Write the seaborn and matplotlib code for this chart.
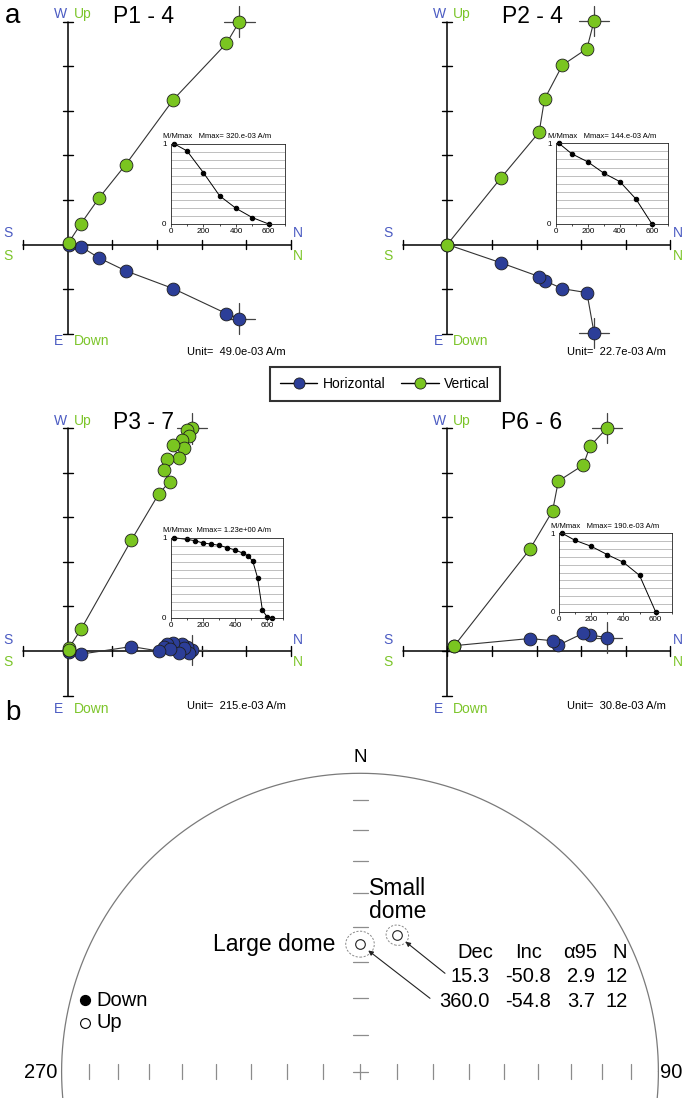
import numpy as np
import pandas as pd
import seaborn as sns
import matplotlib.pyplot as plt
from matplotlib.lines import Line2D
from matplotlib.ticker import FixedLocator

sns.set_style('white')
plt.rcParams['font.family'] = ['Liberation Sans', 'DejaVu Sans']
plt.rcParams['text.color'] = 'black'
plt.rcParams['xtick.color'] = 'black'
plt.rcParams['ytick.color'] = 'black'

# panel a: orthogonal projections, in multiples of each panel's unit
# P1 - 4 (unit 49.0e-03 A/m)
p1_north = [3.85, 3.56, 2.37, 1.30, 0.70, 0.30, 0.02]
p1_west = [-1.66, -1.55, -0.99, -0.59, -0.30, -0.05, 0.00]
p1_up = [5.00, 4.51, 3.25, 1.79, 1.04, 0.47, 0.04]
p1_temp = [20, 100, 200, 300, 400, 500, 600]
p1_mmax = [1.00, 0.91, 0.64, 0.35, 0.195, 0.08, 0.00]

# P2 - 4 (unit 22.7e-03 A/m)
p2_north = [3.29, 3.13, 2.58, 2.18, 2.06, 1.20, 0.00]
p2_west = [-1.98, -1.08, -0.99, -0.81, -0.72, -0.41, 0.00]
p2_up = [5.01, 4.39, 4.02, 3.26, 2.52, 1.49, 0.00]
p2_temp = [20, 100, 200, 300, 400, 500, 600]
p2_mmax = [1.00, 0.87, 0.77, 0.63, 0.525, 0.31, 0.00]

# P3 - 7 (unit 215.e-03 A/m)
p3_north = [2.79, 2.67, 2.71, 2.56, 2.61, 2.35, 2.50, 2.22, 2.16, 2.29, 2.04, 1.43, 0.30, 0.03, 0.02]
p3_west = [0.02, 0.10, -0.05, 0.15, 0.07, 0.17, -0.05, 0.15, 0.10, 0.04, 0.00, 0.10, -0.07, -0.02, 0.02]
p3_up = [4.99, 4.96, 4.82, 4.73, 4.56, 4.62, 4.32, 4.30, 4.05, 3.80, 3.52, 2.49, 0.49, 0.07, 0.02]
p3_temp = [20, 100, 150, 200, 250, 300, 350, 400, 450, 480, 510, 540, 570, 600, 630]
p3_mmax = [1.00, 0.979, 0.963, 0.934, 0.921, 0.905, 0.876, 0.847, 0.806, 0.773, 0.707, 0.50, 0.095, 0.008, 0.00]

# P6 - 6 (unit 30.8e-03 A/m)
p6_north = [3.58, 3.20, 3.05, 2.49, 2.36, 1.85, 0.16]
p6_west = [0.30, 0.36, 0.40, 0.13, 0.23, 0.28, 0.12]
p6_up = [5.00, 4.59, 4.17, 3.81, 3.14, 2.28, 0.12]
p6_temp = [20, 100, 200, 300, 400, 500, 600]
p6_mmax = [1.00, 0.91, 0.834, 0.728, 0.63, 0.464, 0.00]

# panel b: site mean directions
sites = ['Small dome', 'Large dome']
site_dec = [15.3, 360.0]
site_inc = [-50.8, -54.8]
site_a95 = [2.9, 3.7]
site_n = [12, 12]

GREEN = '#7ac520'
BLUE = '#2c3e98'
TBLUE = '#4b5bc2'
TGREEN = '#7cc52a'

W, H = 685, 1098
UNIT = 44.6  # pixels per tick in the projections
fig = plt.figure(figsize=(W / 100, H / 100), dpi=100)


def px_axes(left, top, width, height):
    return fig.add_axes([left / W, 1 - (top + height) / H, width / W, height / H])


def zijderveld(left, top, width, height, ox, oy, north, west, up, n_down,
               title, title_x, unit, low_y, unit_y):
    ax = px_axes(left, top, width, height)
    hor = pd.DataFrame({'north': north, 'val': west})
    ver = pd.DataFrame({'north': north, 'val': up})
    ax.plot([-1, 5], [0, 0], color='k', lw=1.1)
    ax.plot([0, 0], [-n_down, 5], color='k', lw=1.1)
    for t in range(-1, 6):
        ax.plot([t, t], [-0.11, 0.11], color='k', lw=1)
    for t in range(-n_down, 6):
        ax.plot([-0.11, 0.11], [t, t], color='k', lw=1)
    for df, col in ((hor, BLUE), (ver, GREEN)):
        sns.lineplot(data=df, x='north', y='val', sort=False, estimator=None,
                     color='#333333', linewidth=0.8, ax=ax, zorder=2)
        x0, y0 = df['north'].iloc[0], df['val'].iloc[0]
        ax.plot([x0 - 0.34, x0 + 0.34], [y0, y0], color='#444444', lw=0.9, zorder=2)
        ax.plot([x0, x0], [y0 - 0.34, y0 + 0.34], color='#444444', lw=0.9, zorder=2)
        sns.scatterplot(data=df, x='north', y='val', s=85, color=col,
                        edgecolor='#1e1e1e', linewidth=0.6, ax=ax, zorder=3)
    ax.set_xlim((left - ox) / UNIT, (left + width - ox) / UNIT)
    ax.set_ylim((oy - top - height) / UNIT, (oy - top) / UNIT)
    ax.axis('off')
    fs = 10
    ax.text(-0.02, 5.16, 'W', color=TBLUE, ha='right', va='center', fontsize=fs)
    ax.text(0.13, 5.16, 'Up', color=TGREEN, ha='left', va='center', fontsize=fs)
    ax.text(-0.1, low_y, 'E', color=TBLUE, ha='right', va='center', fontsize=fs)
    ax.text(0.13, low_y, 'Down', color=TGREEN, ha='left', va='center', fontsize=fs)
    ax.text(-1.33, 0.25, 'S', color=TBLUE, ha='center', va='center', fontsize=fs)
    ax.text(-1.33, -0.25, 'S', color=TGREEN, ha='center', va='center', fontsize=fs)
    ax.text(5.16, 0.25, 'N', color=TBLUE, ha='center', va='center', fontsize=fs)
    ax.text(5.16, -0.25, 'N', color=TGREEN, ha='center', va='center', fontsize=fs)
    ax.text(title_x, 5.12, title, fontsize=16.5, ha='center', va='center')
    ax.text(2.68, unit_y, 'Unit=  ' + unit, fontsize=8, ha='left', va='center')
    return ax


def demag(left, top, width, height, temp, mmax, title):
    ax = px_axes(left, top, width, height)
    sns.lineplot(x=temp, y=mmax, sort=False, estimator=None, color='k',
                 linewidth=0.7, marker='o', markersize=3.2, markeredgecolor='k',
                 markerfacecolor='k', clip_on=False, ax=ax)
    ax.set_xlim(0, 700)
    ax.set_ylim(0, 1)
    ax.set_xticks([0, 200, 400, 600])
    ax.set_xticks(range(0, 701, 100), minor=True)
    ax.set_yticks([0, 1])
    ax.set_yticklabels(['0', '1'])
    ax.yaxis.set_minor_locator(FixedLocator(np.arange(0.1, 1.0, 0.1)))
    ax.grid(which='minor', axis='y', color='#b4b4b4', lw=0.6)
    ax.tick_params(which='both', labelsize=5.8, pad=1, length=2, width=0.5,
                   bottom=True, left=False)
    ax.tick_params(which='minor', length=1.5)
    for s in ax.spines.values():
        s.set_color('#222222')
        s.set_linewidth(0.6)
    ax.set_xlabel('')
    ax.set_ylabel('')
    ax.text(-0.07, 1.04, title, transform=ax.transAxes, fontsize=5.5,
            ha='left', va='bottom')
    return ax


zijderveld(0, 0, 340, 370, 67.7, 244.5, p1_north, p1_west, p1_up, 2,
           'P1 - 4', 1.71, '49.0e-03 A/m', -2.16, -2.41)
zijderveld(340, 0, 345, 370, 447.3, 244.5, p2_north, p2_west, p2_up, 2,
           'P2 - 4', 1.90, '22.7e-03 A/m', -2.16, -2.41)
zijderveld(0, 405, 340, 315, 67.7, 651, p3_north, p3_west, p3_up, 1,
           'P3 - 7', 1.69, '215.e-03 A/m', -1.30, -1.23)
zijderveld(340, 405, 345, 315, 447.3, 651, p6_north, p6_west, p6_up, 1,
           'P6 - 6', 1.90, '30.8e-03 A/m', -1.30, -1.23)

demag(170.7, 143.7, 114.3, 80.3, p1_temp, p1_mmax, 'M/Mmax   Mmax= 320.e-03 A/m')
demag(555.7, 143.3, 112.3, 80.7, p2_temp, p2_mmax, 'M/Mmax   Mmax= 144.e-03 A/m')
demag(170.7, 537.7, 112.6, 80.0, p3_temp, p3_mmax, 'M/Mmax  Mmax= 1.23e+00 A/m')
demag(559.0, 533.3, 112.7, 78.4, p6_temp, p6_mmax, 'M/Mmax   Mmax= 190.e-03 A/m')

handles = [Line2D([], [], color='k', lw=1, marker='o', ms=8, mfc=BLUE, mec='#1e1e1e', mew=0.6),
           Line2D([], [], color='k', lw=1, marker='o', ms=8, mfc=GREEN, mec='#1e1e1e', mew=0.6)]
leg = fig.legend(handles, ['Horizontal', 'Vertical'], loc='center',
                 bbox_to_anchor=(385 / W, 1 - 384 / H), ncol=2, fontsize=10,
                 frameon=True, fancybox=False, edgecolor='k', handlelength=2.7,
                 handletextpad=0.4, columnspacing=1.1, borderpad=0.7)
leg.get_frame().set_linewidth(1.5)

fig.text(5 / W, 1 - 16 / H, 'a', fontsize=20, ha='left', va='center')
fig.text(5 / W, 1 - 713 / H, 'b', fontsize=20, ha='left', va='center')

# panel b: equal-area stereonet, net radius = 1
CX, CY, R = 360, 1071.7, 298.4
ax = px_axes(0, 720, 685, 378)


def ea_radius(inc):
    return np.sqrt(2) * np.sin(np.radians(90 - np.abs(inc)) / 2)


theta = np.linspace(0, 2 * np.pi, 721)
ax.plot(np.cos(theta), np.sin(theta), color='#7a7a7a', lw=0.9)
tick = 7.5 / R
for inc in range(10, 90, 10):
    r = ea_radius(inc)
    for sx in (-1, 1):
        ax.plot([sx * r, sx * r], [-tick, tick], color='#8c8c8c', lw=0.9)
    ax.plot([-tick, tick], [r, r], color='#8c8c8c', lw=0.9)
ax.plot([-tick, tick], [0, 0], color='#8c8c8c', lw=0.9)
ax.plot([0, 0], [-tick, tick], color='#8c8c8c', lw=0.9)

dec = np.radians(site_dec)
rr = ea_radius(np.array(site_inc))
means = pd.DataFrame({'x': rr * np.sin(dec), 'y': rr * np.cos(dec), 'site': sites})

# confidence cones projected as small circles
for d, i, a in zip(site_dec, site_inc, site_a95):
    t = np.linspace(0, 2 * np.pi, 181)
    lat1, lon1, ang = np.radians(abs(i)), np.radians(d), np.radians(a)
    lat2 = np.arcsin(np.sin(lat1) * np.cos(ang) + np.cos(lat1) * np.sin(ang) * np.cos(t))
    lon2 = lon1 + np.arctan2(np.sin(t) * np.sin(ang) * np.cos(lat1),
                             np.cos(ang) - np.sin(lat1) * np.sin(lat2))
    r2 = ea_radius(np.degrees(lat2))
    cone = pd.DataFrame({'x': r2 * np.sin(lon2), 'y': r2 * np.cos(lon2)})
    sns.lineplot(data=cone, x='x', y='y', sort=False, estimator=None,
                 color='#8a8a8a', linewidth=0.7, linestyle=(0, (2.2, 1.6)), ax=ax)

sns.scatterplot(data=means, x='x', y='y', s=48, color='white',
                edgecolor='#222222', linewidth=0.8, ax=ax, zorder=3)

ax.set_xlim((0 - CX) / R, (685 - CX) / R)
ax.set_ylim((CY - 1098) / R, (CY - 720) / R)
ax.axis('off')


def to_net(px, py):
    return (px - CX) / R, (CY - py) / R


# arrows from the table rows to the means
for (px, py), (_, row) in zip([(445, 973.3), (430, 998.3)], means.iterrows()):
    ax.annotate('', xy=(row['x'], row['y']), xytext=to_net(px, py),
                arrowprops=dict(arrowstyle='-|>', color='#222222', lw=0.8,
                                mutation_scale=7, shrinkA=0, shrinkB=7.5))

ax.text(*to_net(369, 900), 'Small\ndome', fontsize=16.5, ha='left', va='center',
        linespacing=1.05)
ax.text(*to_net(335, 945), 'Large dome', fontsize=16.5, ha='right', va='center')

fs = 14.5
for label, x in zip(['Dec', 'Inc', 'α95', 'N'], [493.3, 541.7, 596.7, 627.3]):
    ax.text(*to_net(x, 952.7), label, fontsize=fs, ha='right', va='center')
for k, y in enumerate([976, 1001.7]):
    vals = [f'{site_dec[k]:.1f}', f'{site_inc[k]:.1f}', f'{site_a95[k]:.1f}', f'{site_n[k]}']
    for v, x in zip(vals, [489.3, 550.7, 595, 627.3]):
        ax.text(*to_net(x, y), v, fontsize=fs, ha='right', va='center')

ax.text(*to_net(360, 758), 'N', fontsize=13.5, ha='center', va='center')
ax.text(*to_net(57, 1073), '270', fontsize=14.5, ha='right', va='center')
ax.text(*to_net(660, 1073), '90', fontsize=14.5, ha='left', va='center')

ax.scatter(*to_net(85, 1000), s=50, color='k', zorder=3)
ax.scatter(*to_net(85, 1023), s=50, facecolor='white', edgecolor='k', lw=0.8, zorder=3)
ax.text(*to_net(96, 1000), 'Down', fontsize=14.5, ha='left', va='center')
ax.text(*to_net(96, 1023), 'Up', fontsize=14.5, ha='left', va='center')

fig.savefig('out.png', dpi=100)
